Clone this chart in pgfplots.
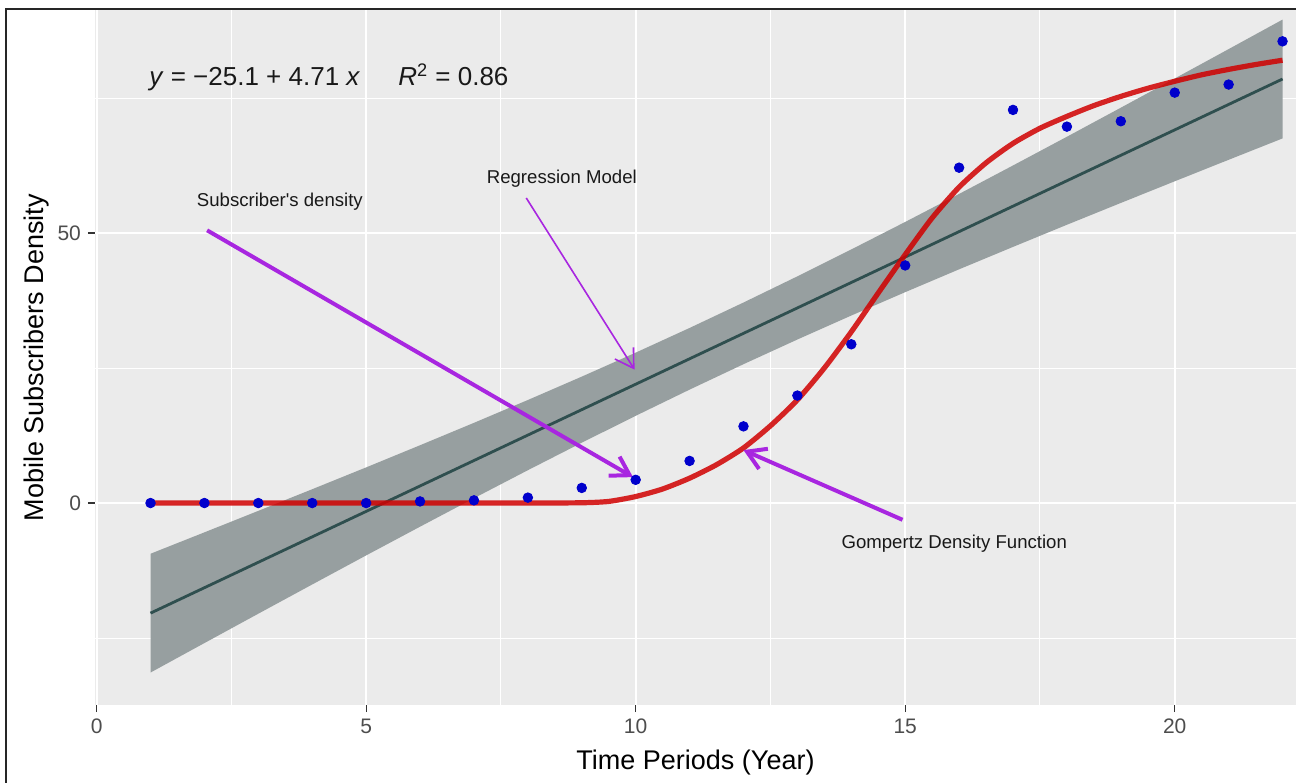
\documentclass[border=0pt]{standalone}
\usepackage{fontspec}
\setmainfont{Liberation Sans}
\usepackage{pgfplots}
\pgfplotsset{compat=1.18}
\usetikzlibrary{arrows.meta}
\definecolor{panelbg}{HTML}{EBEBEB}
\definecolor{gray20}{HTML}{333333}
\definecolor{gray30}{HTML}{4D4D4D}
\definecolor{ribbon}{HTML}{979FA0}
\definecolor{regline}{HTML}{2F4F4F}
\definecolor{gomred}{HTML}{D00000}
\definecolor{ptblue}{HTML}{0000CC}
\definecolor{arrowc}{HTML}{A826E0}
\begin{document}
\begin{tikzpicture}
\useasboundingbox (-47.5pt,-38.5pt) rectangle (600.5pt,352.5pt);
\begin{axis}[
  at={(0,0)}, anchor=south west,
  scale only axis, width=600.5pt, height=347.5pt,
  xmin=-0.03, xmax=22.25, ymin=-37.4, ymax=91.3,
  axis x line*=bottom, axis y line*=left,
  axis line style={draw=none},
  xtick={0,5,10,15,20}, ytick={0,50},
  minor xtick={2.5,7.5,12.5,17.5}, minor ytick={-25,25,75},
  grid=both,
  major grid style={white, line width=1pt},
  minor grid style={white, line width=0.5pt},
  major tick length=3.5pt, minor tick length=0pt,
  tick align=outside,
  tick style={gray20, line width=0.6pt},
  ticklabel style={font=\fontsize{10.5}{12}\selectfont, text=gray30},
  /pgf/number format/assume math mode=true,
  axis background/.style={fill=panelbg},
  xlabel={Time Periods (Year)}, ylabel={Mobile Subscribers Density},
  label style={font=\fontsize{13.5}{16}\selectfont},
  xlabel style={at={([yshift=-29pt]axis description cs:0.5,0)}, anchor=center},
  ylabel style={at={([xshift=-29pt]axis description cs:0,0.5)}, anchor=center},
]
% confidence band of the linear fit
\addplot[fill=ribbon, draw=none] coordinates {
 (1,-9.39)(2,-5.43)(3,-1.45)(4,2.56)(5,6.60)(6,10.70)(7,14.85)(8,19.08)
 (9,23.41)(10,27.85)(11,32.42)(12,37.13)(13,41.98)(14,46.96)(15,52.05)
 (16,57.24)(17,62.51)(18,67.83)(19,73.21)(20,78.62)(21,84.06)(22,89.52)
 (22,67.52)(21,63.56)(20,59.58)(19,55.57)(18,51.53)(17,47.43)(16,43.28)
 (15,39.05)(14,34.72)(13,30.28)(12,25.71)(11,21.00)(10,16.15)(9,11.17)
 (8,6.08)(7,0.89)(6,-4.38)(5,-9.70)(4,-15.08)(3,-20.49)(2,-25.93)(1,-31.39)
} -- cycle;
% linear fit
\addplot[regline, line width=1.4pt] coordinates {(1,-20.39)(22,78.52)};
% observed density
\addplot[only marks, mark=*, mark size=2.4pt, ptblue] coordinates {
 (1,0)(2,0)(3,0)(4,0)(5,0)(6,0.3)(7,0.5)(8,1.0)(9,2.8)(10,4.3)(11,7.8)
 (12,14.2)(13,19.9)(14,29.4)(15,44.0)(16,62.1)(17,72.8)(18,69.7)(19,70.7)
 (20,76.0)(21,77.5)(22,85.5)
};
% gompertz curve
\addplot[gomred, line width=2.6pt, opacity=0.85, smooth, tension=0.4] coordinates {
 (1,0)(3,0)(5,0)(7,0)(8,0)(9,0.05)(9.5,0.3)(10,1.2)(10.5,2.6)(11,4.6)
 (11.5,7.1)(12,10.2)(12.5,14.3)(13,19.1)(13.5,25.0)(14,31.7)(14.5,38.9)
 (15,46.0)(15.5,52.8)(16,58.5)(16.5,63.0)(17,66.6)(17.5,69.4)(18,71.6)
 (18.5,73.6)(19,75.3)(19.5,76.8)(20,78.1)(20.5,79.3)(21,80.3)(21.5,81.2)(22,82.0)
};
% annotations
\draw[arrowc, line width=2pt, -{Straight Barb[length=9pt,width=11pt]}]
  (axis cs:2.05,50.5) -- (axis cs:9.95,4.8);
\draw[arrowc, line width=0.8pt, -{Straight Barb[length=9pt,width=11pt]}]
  (axis cs:7.97,56.5) -- (axis cs:9.98,24.7);
\draw[arrowc, line width=2pt, -{Straight Barb[length=9pt,width=11pt]}]
  (axis cs:14.95,-3.1) -- (axis cs:12.0,9.8);
\node[anchor=base, font=\fontsize{9.3}{11}\selectfont, text=black!90]
  at (axis cs:3.4,55.0) {Subscriber\textquotesingle s density};
\node[anchor=base, font=\fontsize{9.3}{11}\selectfont, text=black!90]
  at (axis cs:8.63,59.2) {Regression Model};
\node[anchor=base, font=\fontsize{9.3}{11}\selectfont, text=black!90]
  at (axis cs:15.91,-8.4) {Gompertz Density Function};
\node[anchor=base west, inner sep=0pt, font=\fontsize{13}{15}\selectfont, text=black!90]
  at (axis cs:0.97,77.4) {\textit{y} = −25.1 + 4.71 \textit{x}};
\node[anchor=base west, inner sep=0pt, font=\fontsize{13}{15}\selectfont, text=black!90]
  at (axis cs:5.59,77.4) {\textit{R}\textsuperscript{2} = 0.86};
\end{axis}
\draw[line width=1pt, black!85] (-44.25pt,-40pt) -- (-44.25pt,348pt) -- (610pt,348pt);
\end{tikzpicture}
\end{document}
